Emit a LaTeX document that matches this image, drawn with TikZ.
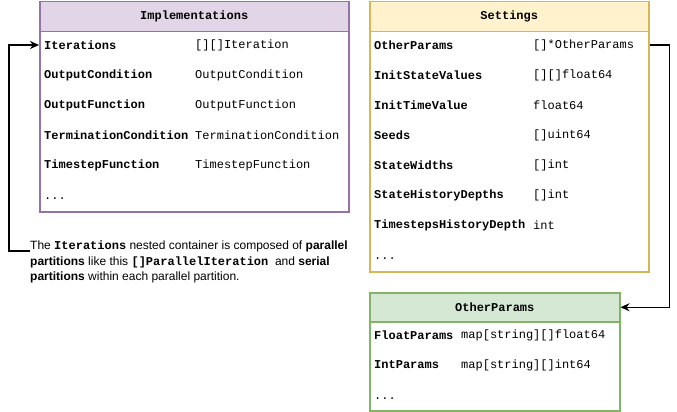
\documentclass[tikz,border=0pt]{standalone}
\usepackage{fontspec}
\setmainfont{Liberation Sans}
\newfontfamily\monofam{Liberation Mono}
\usetikzlibrary{arrows.meta}
\definecolor{purpB}{HTML}{9673A6}
\definecolor{purpF}{HTML}{E1D5E7}
\definecolor{yelB}{HTML}{D6B656}
\definecolor{yelF}{HTML}{FFF2CC}
\definecolor{grnB}{HTML}{82B366}
\definecolor{grnF}{HTML}{D5E8D4}
\tikzset{
  box/.style={draw, line width=1.5pt, anchor=north west, inner sep=0pt},
  hdr/.style={box, font=\monofam\bfseries\fontsize{12}{14}\selectfont},
  fname/.style={anchor=west, inner sep=0pt, font=\monofam\bfseries\fontsize{12}{14}\selectfont},
  ftype/.style={anchor=west, inner sep=0pt, font=\monofam\fontsize{12}{14}\selectfont},
  dots/.style={anchor=base west, inner sep=0pt, font=\monofam\fontsize{12}{14}\selectfont},
  conn/.style={draw=black, line width=1.5pt, -{Stealth[length=9pt,width=8pt]}},
}
\begin{document}
\begin{tikzpicture}[x=1pt,y=-1pt]
\useasboundingbox (0,0) rectangle (677,412);
% Implementations
\node[box, draw=purpB, fill=white, minimum width=309pt, minimum height=210pt] (impl) at (39,1) {};
\node[hdr, draw=purpB, fill=purpF, minimum width=309pt, minimum height=30pt] (implh) at (39,1) {Implementations};
\node[fname] (i1) at (44,45) {Iterations};
\node[ftype] (i1t) at (195,45) {[][]Iteration};
\node[fname] (i2) at (44,75) {OutputCondition};
\node[ftype] (i2t) at (195,75) {OutputCondition};
\node[fname] (i3) at (44,105) {OutputFunction};
\node[ftype] (i3t) at (195,105) {OutputFunction};
\node[fname] (i4) at (44,135) {TerminationCondition};
\node[ftype] (i4t) at (195,135) {TerminationCondition};
\node[fname] (i5) at (44,165) {TimestepFunction};
\node[ftype] (i5t) at (195,165) {TimestepFunction};
\node[dots] (i6) at (44,199) {...};
% Settings
\node[box, draw=yelB, fill=yelF, minimum width=279pt, minimum height=270pt] (set) at (369,1) {};
\node[box, draw=yelB, fill=white, minimum width=279pt, minimum height=240pt] (setb) at (369,31) {};
\node[hdr, draw=yelB, fill=yelF, minimum width=279pt, minimum height=30pt] (seth) at (369,1) {Settings};
\node[fname] (s1) at (374,45) {OtherParams};
\node[ftype] (s1t) at (533,45) {[]*OtherParams};
\node[fname] (s2) at (374,75) {InitStateValues};
\node[ftype] (s2t) at (533,75) {[][]float64};
\node[fname] (s3) at (374,105) {InitTimeValue};
\node[ftype] (s3t) at (533,105) {float64};
\node[fname] (s4) at (374,135) {Seeds};
\node[ftype] (s4t) at (533,135) {[]uint64};
\node[fname] (s5) at (374,165) {StateWidths};
\node[ftype] (s5t) at (533,165) {[]int};
\node[fname] (s6) at (374,195) {StateHistoryDepths};
\node[ftype] (s6t) at (533,195) {[]int};
\node[fname] (s7) at (374,225) {TimestepsHistoryDepth};
\node[ftype] (s7t) at (533,225) {int};
\node[dots] (s8) at (374,259) {...};
% OtherParams
\node[box, draw=grnB, fill=white, minimum width=250pt, minimum height=118pt] (op) at (369,292) {};
\node[hdr, draw=grnB, fill=grnF, minimum width=250pt, minimum height=29pt] (oph) at (369,292) {OtherParams};
\node[fname] (o1) at (374,335) {FloatParams};
\node[ftype] (o1t) at (461,335) {map[string][]float64};
\node[fname] (o2) at (374,365) {IntParams};
\node[ftype] (o2t) at (461,365) {map[string][]int64};
\node[dots] (o3) at (374,399) {...};
% note
\node[anchor=north west, inner sep=0pt, align=left, font=\fontsize{12}{15.5}\selectfont] (note) at (30,241)
 {The \textbf{\monofam Iterations} nested container is composed of \textbf{parallel}\\
  \textbf{partitions} like this \textbf{\monofam []ParallelIteration}\ \ and \textbf{serial}\\
  \textbf{partitions} within each parallel partition.};
% connectors
\draw[conn] ([yshift=-10pt]note.north west) -- ++(-21,0) |- (impl.west |- i1);
\draw[conn] (set.east |- s1) -- ++(20,0) |- (oph.east);
\end{tikzpicture}
\end{document}
